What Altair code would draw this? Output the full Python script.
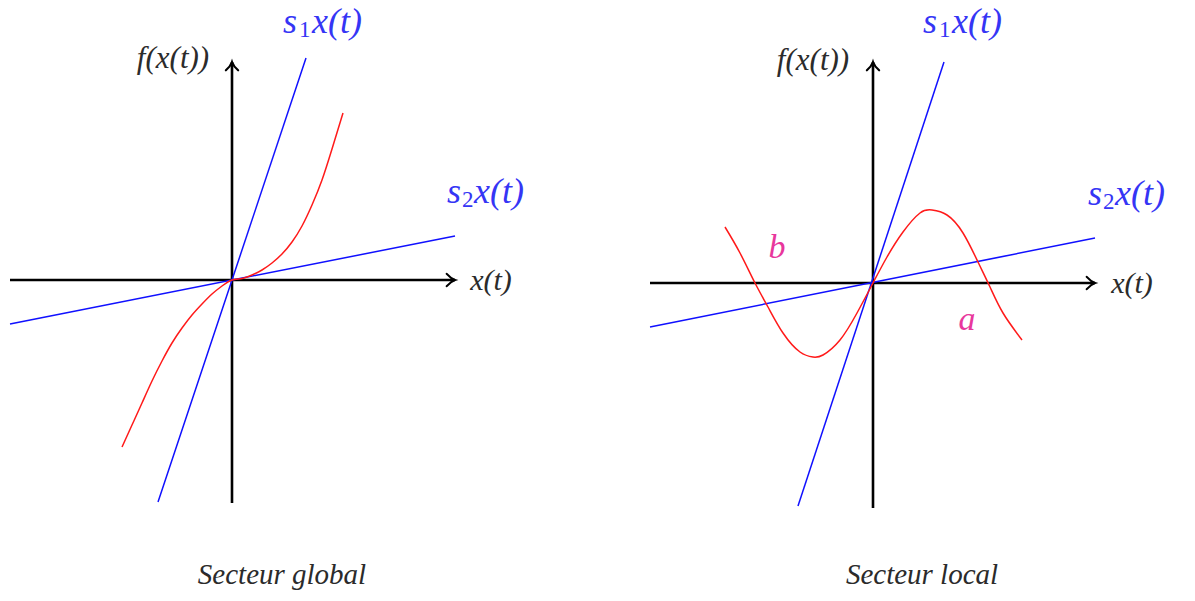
import altair as alt
import pandas as pd

# ---------- panel 1: "Secteur global" ----------
glob_xaxis = [-2.22, 2.23]          # horizontal axis extent (x(t))
glob_yaxis = [-2.23, 2.18]          # vertical axis extent (f(x(t)))
glob_s1_x = [-0.74, 0.74]           # upper sector bound s1 x(t)
glob_s1_y = [-2.22, 2.22]
glob_s2_x = [-2.22, 2.23]           # lower sector bound s2 x(t)
glob_s2_y = [-0.44, 0.44]
glob_f_x = [-1.10, -1.0, -0.9, -0.8, -0.7, -0.6, -0.5, -0.4, -0.3, -0.2, -0.1, 0.0,
            0.1, 0.2, 0.3, 0.4, 0.5, 0.6, 0.7, 0.8, 0.9, 1.0, 1.11]
glob_f_y = [-1.67, -1.45, -1.23, -1.01, -0.81, -0.63, -0.48, -0.35, -0.24, -0.14, -0.06, 0.0,
            0.015, 0.05, 0.10, 0.17, 0.26, 0.38, 0.54, 0.75, 1.00, 1.31, 1.67]

# ---------- panel 2: "Secteur local" ----------
loc_xaxis = [-2.23, 2.22]
loc_yaxis = [-2.25, 2.21]
loc_s1_x = [-0.75, 0.71]
loc_s1_y = [-2.23, 2.21]
loc_s2_x = [-2.23, 2.22]
loc_s2_y = [-0.44, 0.45]
loc_f_x = [-1.48, -1.33, -1.18, -1.05, -0.90, -0.73, -0.60, -0.50, -0.33,
           -0.16, 0.0, 0.14, 0.30, 0.47, 0.59, 0.74, 0.90, 1.05, 1.17,
           1.30, 1.49]
loc_f_y = [0.56, 0.30, 0.0, -0.24, -0.50, -0.69, -0.74, -0.72, -0.57,
           -0.30, 0.0, 0.26, 0.51, 0.70, 0.73, 0.68, 0.50, 0.21, -0.04,
           -0.30, -0.57]

# ---------- labels (x = anchor, y = baseline, in data units) ----------
BLUE_TXT = "#3535f5"
DARK_TXT = "#2b2b2b"
PINK_TXT = "#e8379c"

glob_lab_text = ["s", "1", "x(t)", "s", "2", "x(t)", "f(x(t))", "x(t)", "Secteur global"]
glob_lab_x = [0.51, 0.67, 0.80, 2.15, 2.30, 2.42, -0.59, 2.59, 0.50]
glob_lab_y = [2.47, 2.43, 2.47, 0.77, 0.73, 0.77, 2.12, -0.10, -3.04]

loc_lab_text = ["s", "1", "x(t)", "s", "2", "x(t)", "f(x(t))", "x(t)", "Secteur local", "b", "a"]
loc_lab_x = [0.50, 0.66, 0.79, 2.15, 2.30, 2.42, -0.60, 2.59, 0.49, -0.96, 0.94]
loc_lab_y = [2.50, 2.46, 2.50, 0.78, 0.74, 0.78, 2.13, -0.10, -3.01, 0.25, -0.47]

lab_size = [36, 23, 36, 36, 23, 36, 31, 30, 29, 34, 34]
lab_color = [BLUE_TXT] * 6 + [DARK_TXT, DARK_TXT, DARK_TXT, PINK_TXT, PINK_TXT]
lab_italic = [True, False, True, True, False, True, True, True, True, True, True]
lab_align = ["left"] * 6 + ["center"] * 5

PANEL_W = 597
PANEL_H = 601
FONT = "Liberation Serif"

# open arrow tip, pointing right, tip at the origin of the symbol
ARROW = "M -1.35 -1 C -0.9 -0.5 -0.35 -0.12 0 0 C -0.35 0.12 -0.9 0.5 -1.35 1"


def panel(xdom, ydom, xaxis, yaxis, s1x, s1y, s2x, s2y, fx, fy,
          txt, tx, ty):
    xs = alt.Scale(domain=xdom, nice=False, zero=False)
    ys = alt.Scale(domain=ydom, nice=False, zero=False)

    segs = pd.DataFrame({
        "x": [xaxis[0], 0, s1x[0], s2x[0]],
        "x2": [xaxis[1], 0, s1x[1], s2x[1]],
        "y": [0, yaxis[0], s1y[0], s2y[0]],
        "y2": [0, yaxis[1], s1y[1], s2y[1]],
        "kind": ["axis", "axis", "sector", "sector"],
    })
    axes = alt.Chart(segs[segs.kind == "axis"]).mark_rule(
        color="black", strokeWidth=2.6, strokeCap="butt"
    ).encode(
        x=alt.X("x:Q", scale=xs, axis=None), x2="x2:Q",
        y=alt.Y("y:Q", scale=ys, axis=None), y2="y2:Q",
    )
    sectors = alt.Chart(segs[segs.kind == "sector"]).mark_rule(
        color="#1010ff", strokeWidth=1.5
    ).encode(
        x=alt.X("x:Q", scale=xs, axis=None), x2="x2:Q",
        y=alt.Y("y:Q", scale=ys, axis=None), y2="y2:Q",
    )

    tips = pd.DataFrame({"x": [xaxis[1], 0], "y": [0, yaxis[1]], "ang": [0, 270]})
    arrows = alt.Chart(tips).mark_point(
        shape=ARROW, size=150, filled=False, color="black",
        strokeWidth=2.2, opacity=1, strokeCap="round"
    ).encode(
        x=alt.X("x:Q", scale=xs, axis=None),
        y=alt.Y("y:Q", scale=ys, axis=None),
        angle=alt.Angle("ang:Q", scale=None),
    )

    curve = alt.Chart(pd.DataFrame({"x": fx, "y": fy})).mark_line(
        color="#ff1a1a", strokeWidth=1.5, interpolate="natural"
    ).encode(
        x=alt.X("x:Q", scale=xs, axis=None),
        y=alt.Y("y:Q", scale=ys, axis=None),
    )

    n = len(txt)
    lab = pd.DataFrame({
        "x": tx, "y": ty, "t": txt,
        "c": lab_color[:n], "s": lab_size[:n],
        "it": lab_italic[:n], "al": lab_align[:n],
    })
    text_layers = []
    for italic in (True, False):
        for align in ("left", "center"):
            part = lab[(lab.it == italic) & (lab.al == align)]
            if part.empty:
                continue
            text_layers.append(alt.Chart(part).mark_text(
                font=FONT, fontStyle="italic" if italic else "normal",
                align=align, baseline="alphabetic"
            ).encode(
                x=alt.X("x:Q", scale=xs, axis=None),
                y=alt.Y("y:Q", scale=ys, axis=None),
                text="t:N",
                color=alt.Color("c:N", scale=None),
                size=alt.Size("s:Q", scale=None),
            ))

    return alt.layer(axes, sectors, curve, arrows, *text_layers).properties(
        width=PANEL_W, height=PANEL_H
    )


left = panel([-2.32, 3.65], [-3.21, 2.80], glob_xaxis, glob_yaxis,
             glob_s1_x, glob_s1_y, glob_s2_x, glob_s2_y, glob_f_x, glob_f_y,
             glob_lab_text, glob_lab_x, glob_lab_y)
right = panel([-2.75, 3.22], [-3.18, 2.83], loc_xaxis, loc_yaxis,
              loc_s1_x, loc_s1_y, loc_s2_x, loc_s2_y, loc_f_x, loc_f_y,
              loc_lab_text, loc_lab_x, loc_lab_y)

chart = alt.hconcat(left, right, spacing=1).properties(
    padding=0, background="white"
).configure_view(stroke=None)

chart.save("out.html", embed_options={"renderer": "svg", "actions": False})
